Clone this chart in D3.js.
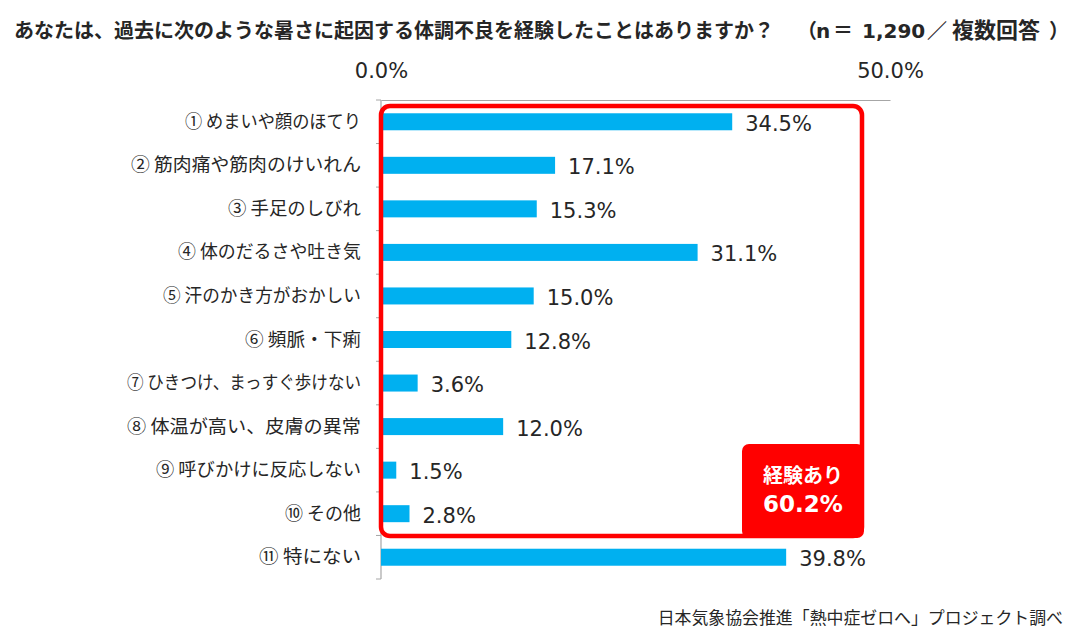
<!DOCTYPE html>
<html>
<head>
<meta charset="utf-8">
<script src="https://cdnjs.cloudflare.com/ajax/libs/d3/7.8.5/d3.min.js"></script>
<style>
body { margin: 0; background: #fff; }
text { font-family: "Noto Sans CJK JP", sans-serif; fill: #262626; }
.num { font-family: "DejaVu Sans", sans-serif; font-size: 21px; }
.cat { font-size: 18.5px; }
.title { font-size: 20px; font-weight: 700; }
.latin { font-family: "DejaVu Sans", sans-serif; }
</style>
</head>
<body>
<svg id="chart" width="1080" height="642"></svg>
<script>
// labelW = width of the label text
var data = [
  {label: "① めまいや顔のほてり", value: 34.5, labelW: 176},
  {label: "② 筋肉痛や筋肉のけいれん", value: 17.1, labelW: 230},
  {label: "③ 手足のしびれ", value: 15.3, labelW: 133},
  {label: "④ 体のだるさや吐き気", value: 31.1, labelW: 183},
  {label: "⑤ 汗のかき方がおかしい", value: 15.0, labelW: 198},
  {label: "⑥ 頻脈・下痢", value: 12.8, labelW: 116},
  {label: "⑦ ひきつけ、まっすぐ歩けない", value: 3.6, labelW: 234},
  {label: "⑧ 体温が高い、皮膚の異常", value: 12.0, labelW: 234},
  {label: "⑨ 呼びかけに反応しない", value: 1.5, labelW: 205},
  {label: "⑩ その他", value: 2.8, labelW: 76},
  {label: "⑪  特にない", value: 39.8, labelW: 102}
];

var svg = d3.select("#chart");
var x = d3.scaleLinear().domain([0, 50]).range([381, 890]);
var y = d3.scaleBand().domain(data.map(function(d) { return d.label; })).range([100, 579]).paddingInner(0.6).paddingOuter(0.3);
var step = y.step();

// title
svg.append("text").attr("class", "title").attr("x", 14).attr("y", 38)
  .text("あなたは、過去に次のような暑さに起因する体調不良を経験したことはありますか？");
var titleBits = [
  {t: "（", x: 797, latin: false},
  {t: "n", x: 816, latin: true},
  {t: "＝", x: 833, latin: false},
  {t: "1,290", x: 862, latin: true},
  {t: "／", x: 927, latin: false},
  {t: "複数回答", x: 952, latin: false},
  {t: "）", x: 1049, latin: false}
];
svg.selectAll(".tbit").data(titleBits).enter().append("text")
  .attr("class", function(d) { return d.latin ? "title latin" : "title"; })
  .attr("x", function(d) { return d.x; })
  .attr("y", 38)
  .style("font-size", function(d) { return d.t == "複数回答" ? "22px" : null; })
  .text(function(d) { return d.t; });

// axes
var xTop = d3.axisTop(x).tickValues([0, 50]).tickSize(0).tickFormat(function(d) { return d.toFixed(1) + "%"; });
var gTop = svg.append("g").attr("transform", "translate(0,100)").call(xTop);
gTop.select(".domain").attr("stroke", "#a6a6a6").attr("stroke-width", 1.2);
gTop.selectAll("text").attr("class", "num").attr("y", -22);

var gLeft = svg.append("g");
gLeft.append("line").attr("x1", 381).attr("x2", 381).attr("y1", 100).attr("y2", 579).attr("stroke", "#a6a6a6").attr("stroke-width", 1.2);
gLeft.selectAll(".tk").data(d3.range(12)).enter().append("line")
  .attr("x1", 376).attr("x2", 381)
  .attr("y1", function(i) { return 100 + i * step; })
  .attr("y2", function(i) { return 100 + i * step; })
  .attr("stroke", "#a6a6a6");

// bars
svg.selectAll(".bar").data(data).enter().append("rect")
  .attr("x", x(0))
  .attr("y", function(d) { return y(d.label) + y.bandwidth() / 2 - 8.5; })
  .attr("width", function(d) { return x(d.value) - x(0); })
  .attr("height", 17)
  .attr("fill", "#00b0f0");

svg.selectAll(".val").data(data).enter().append("text")
  .attr("class", "num")
  .attr("x", function(d) { return x(d.value) + 13; })
  .attr("y", function(d) { return y(d.label) + y.bandwidth() / 2 + 9; })
  .text(function(d) { return d.value.toFixed(1) + "%"; });

svg.selectAll(".cat").data(data).enter().append("text")
  .attr("class", "cat")
  .attr("x", function(d) { return 361 - d.labelW; })
  .attr("y", function(d) { return y(d.label) + y.bandwidth() / 2 + 6; })
  .attr("textLength", function(d) { return d.labelW; })
  .attr("lengthAdjust", "spacingAndGlyphs")
  .text(function(d) { return d.label; });

// red frame and badge
svg.append("rect").attr("x", 381).attr("y", 106).attr("width", 481).attr("height", 430).attr("rx", 9)
  .attr("fill", "none").attr("stroke", "#ff0000").attr("stroke-width", 4.5);
svg.append("rect").attr("x", 742).attr("y", 444).attr("width", 122).attr("height", 94).attr("rx", 7).attr("fill", "#ff0000");
svg.append("text").attr("x", 803).attr("y", 483).attr("text-anchor", "middle")
  .style("fill", "#fff").style("font-size", "20px").style("font-weight", 700).text("経験あり");
svg.append("text").attr("class", "latin").attr("x", 803).attr("y", 512).attr("text-anchor", "middle")
  .style("fill", "#fff").style("font-size", "23px").style("font-weight", 700).text("60.2%");

// source
svg.append("text").attr("x", 1063).attr("y", 624).attr("text-anchor", "end")
  .style("font-size", "16.9px").text("日本気象協会推進「熱中症ゼロへ」プロジェクト調べ");
</script>
</body>
</html>
